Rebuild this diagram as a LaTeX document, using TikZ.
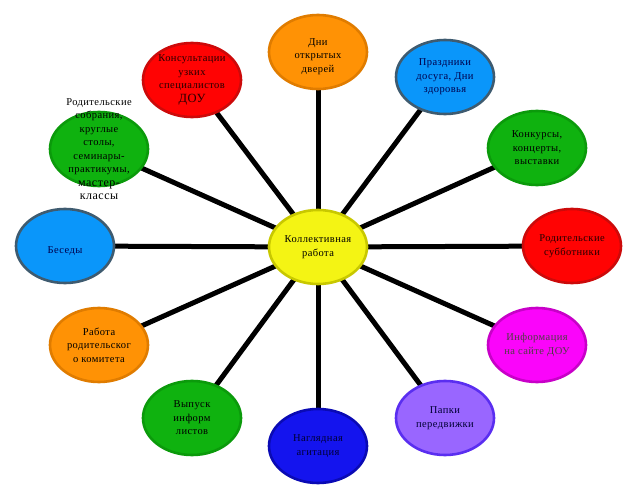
\documentclass[tikz,border=0pt]{standalone}
\usepackage{fontspec}
\setmainfont{Liberation Serif}[LetterSpace=4]
\usetikzlibrary{shapes.geometric,backgrounds}
\definecolor{sunfill}{HTML}{F4F414}
\definecolor{sunline}{HTML}{C8C800}
\definecolor{orgfill}{HTML}{FF9205}
\definecolor{orgline}{HTML}{E07C00}
\definecolor{redfill}{HTML}{FF0303}
\definecolor{redline}{HTML}{CC0A0A}
\definecolor{grnfill}{HTML}{0FB20F}
\definecolor{grnline}{HTML}{0B9A0B}
\definecolor{skyfill}{HTML}{0A96FA}
\definecolor{skyline}{HTML}{3E5B70}
\definecolor{magfill}{HTML}{FA05FA}
\definecolor{magline}{HTML}{C800C8}
\definecolor{prpfill}{HTML}{9966FF}
\definecolor{prpline}{HTML}{5A2EF0}
\definecolor{nvyfill}{HTML}{1414EE}
\definecolor{nvyline}{HTML}{0A0AB4}
\tikzset{
  bub/.style={ellipse,draw,line width=2.6pt,minimum width=98pt,minimum height=74pt,
              inner sep=0pt,align=center,font=\fontsize{10.5}{13.5}\selectfont},
  sun/.style={bub,fill=sunfill,draw=sunline},
  org/.style={bub,fill=orgfill,draw=orgline},
  rd/.style={bub,fill=redfill,draw=redline,text=red!15!black},
  grn/.style={bub,fill=grnfill,draw=grnline},
  sky/.style={bub,fill=skyfill,draw=skyline,text=blue!30!black},
  mag/.style={bub,fill=magfill,draw=magline,text=magenta!20!black},
  prp/.style={bub,fill=prpfill,draw=prpline,text=blue!20!black},
  nvy/.style={bub,fill=nvyfill,draw=nvyline,text=blue!20!black},
  ray/.style={line width=5pt,black},
  txt/.style={align=center,inner sep=0pt,font=\fontsize{10.5}{13.5}\selectfont}
}
\begin{document}
\begin{tikzpicture}[x=1pt,y=-1pt]
  \useasboundingbox (0,0) rectangle (638,495);
  % центр
  \node[sun] (ctr) at (318,247) {Коллективная\\работа};
  % верхняя половина
  \node[org] (days) at (318,52) {\\[2pt]Дни\\открытых\\дверей};
  \node[rd] (consult) at (192,80) {Консультации\\узких\\специалистов\\{\fontsize{12.5}{13}\selectfont ДОУ}};
  \node[grn] (meet) at (99,149) {};
  \node[txt] (meettxt) at (99,149) {Родительские\\собрания,\\круглые\\столы,\\семинары-\\практикумы,\\{\fontsize{12}{14}\selectfont мастер-}\\{\fontsize{12}{14}\selectfont классы}};
  \node[sky] (holid) at (445,77) {Праздники\\досуга, Дни\\здоровья};
  \node[grn] (contest) at (537,148) {Конкурсы,\\концерты,\\выставки};
  \node[sky] (talk) at (65,246) {\\[4pt]Беседы};
  \node[rd] (sat) at (572,246) {Родительские\\субботники};
  % нижняя половина
  \node[org] (comm) at (99,345) {Работа\\родительског\\о комитета};
  \node[mag] (site) at (537,345) {Информация\\на сайте ДОУ};
  \node[grn] (leaf) at (192,418) {Выпуск\\информ\\листов};
  \node[nvy] (visual) at (318,446) {Наглядная\\агитация};
  \node[prp] (folder) at (445,418) {Папки\\передвижки};
  \begin{scope}[on background layer]
    \foreach \n in {days,consult,meet,holid,contest,talk,sat,comm,site,leaf,visual,folder}
      \draw[ray] (ctr.center) -- (\n.center);
  \end{scope}
\end{tikzpicture}
\end{document}
